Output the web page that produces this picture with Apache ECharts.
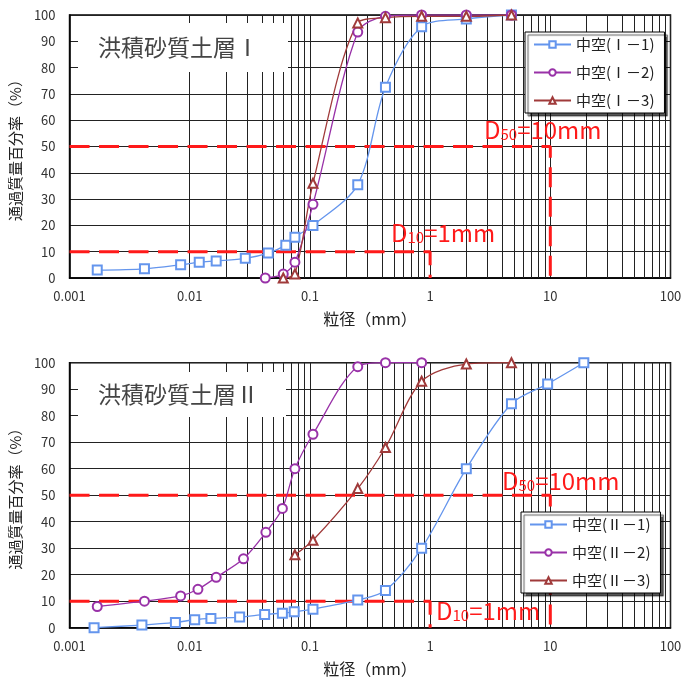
<!DOCTYPE html>
<html><head><meta charset="utf-8">
<script src="https://cdn.jsdelivr.net/npm/echarts@6/dist/echarts.min.js"></script>
<style>html,body{margin:0;padding:0;background:#fff}#c{width:685px;height:681px}</style>
</head><body><div id="c"></div>
<script>
// ---- data ----
const xMin = 0.001, xMax = 100;
const yMin = 0, yMax = 100, yStep = 10;
const names1 = ['中空(Ⅰ－1)', '中空(Ⅰ－2)', '中空(Ⅰ－3)'];
const names2 = ['中空(Ⅱ－1)', '中空(Ⅱ－2)', '中空(Ⅱ－3)'];
const titles = ['洪積砂質土層Ⅰ', '洪積砂質土層Ⅱ'];
// upper chart
const s1a = [[0.0017,3],[0.0042,3.5],[0.0084,5],[0.012,6],[0.0166,6.5],[0.029,7.5],[0.045,9.5],[0.063,12.5],[0.075,15.5],[0.106,20],[0.25,35.5],[0.425,72.5],[0.85,95.5],[2,98.5],[4.75,100]];
const s1b = [[0.0425,0],[0.06,1.5],[0.075,6],[0.106,28],[0.25,93.5],[0.425,99.5],[0.85,100],[2,100],[4.75,100]];
const s1c = [[0.06,0],[0.075,1.5],[0.106,36],[0.25,97],[0.425,99],[0.85,99.5],[2,99.5],[4.75,100]];
// lower chart
const s2a = [[0.0016,0],[0.004,1],[0.0076,2],[0.011,3],[0.015,3.5],[0.026,4],[0.042,5],[0.059,5.5],[0.074,6],[0.106,7],[0.25,10.5],[0.425,14],[0.85,30],[2,60],[4.75,84.5],[9.5,92],[19,100]];
const s2b = [[0.0017,8],[0.0042,10],[0.0084,12],[0.0117,14.5],[0.0166,19],[0.028,26],[0.043,36],[0.059,45],[0.075,60],[0.106,73],[0.25,98.5],[0.425,100],[0.85,100]];
const s2c = [[0.075,27.5],[0.106,33],[0.25,52.5],[0.425,68],[0.85,93],[2,99.5],[4.75,100]];
// reference lines
const d50 = [[0.001,50],[10,50],[10,0]];
const d10 = [[0.001,10],[1,10],[1,0]];

// ---- styling / build ----
const FONT = '"Noto Sans CJK JP", "Noto Sans", sans-serif';
const colors = ['#6495ED', '#9932A8', '#A03A3A'];
const symbols = ['emptyRect', 'emptyCircle', 'emptyTriangle'];
const minorVals = [];
for (let k = -3; k <= 1; k++) for (let d = 2; d <= 9; d++) minorVals.push(+(d * Math.pow(10, k)).toPrecision(3));

const grids = [
  {left: 68, right: 14.5, top: 15, height: 263},
  {left: 68, right: 14.5, top: 362.7, height: 265}
];
function xAx(i) {
  return {
    type: 'log', logBase: 10, min: xMin, max: xMax, gridIndex: i,
    name: '粒径（mm）', nameLocation: 'middle', nameGap: 33,
    nameTextStyle: {fontFamily: FONT, fontSize: 16, color: '#222'},
    axisLine: {lineStyle: {color: '#000', width: 1.5}},
    axisTick: {show: false},
    axisLabel: {fontFamily: FONT, fontSize: 13, color: '#333', margin: 12,
      formatter: v => String(+v.toPrecision(3))},
    splitLine: {show: true, lineStyle: {color: '#222', width: 1}}
  };
}
function yAx(i) {
  return {
    type: 'value', min: yMin, max: yMax, interval: yStep, gridIndex: i,
    name: '通過質量百分率（%）', nameLocation: 'middle', nameGap: 46, nameRotate: 90,
    nameTextStyle: {fontFamily: FONT, fontSize: 15, color: '#222'},
    axisLine: {show: true, lineStyle: {color: '#000', width: 1.5}},
    axisTick: {show: false},
    axisLabel: {fontFamily: FONT, fontSize: 13, color: '#333', margin: 14},
    splitLine: {show: true, lineStyle: {color: '#222', width: 1}}
  };
}
function dataSeries(name, data, idx, gi) {
  return {
    type: 'line', name: name, data: data, xAxisIndex: gi, yAxisIndex: gi,
    smooth: 0.3, symbol: symbols[idx], symbolSize: 9, z: 3,
    lineStyle: {color: colors[idx], width: 1.3},
    itemStyle: {color: colors[idx], borderColor: colors[idx], borderWidth: 1.3},
    emphasis: {disabled: true}
  };
}
function refSeries(data, gi) {
  return {
    type: 'line', data: data, xAxisIndex: gi, yAxisIndex: gi, symbol: 'none', z: 2, silent: true,
    lineStyle: {color: '#FF1A1A', width: 3, type: [20, 9.5]}
  };
}
function gridSeries(gi) {
  return {
    type: 'line', data: [], xAxisIndex: gi, yAxisIndex: gi, silent: true, z: 1,
    markLine: {silent: true, z: 1, symbol: 'none', animation: false, label: {show: false},
      lineStyle: {color: '#222', width: 1, type: 'solid'},
      data: minorVals.map(v => ({xAxis: v}))}
  };
}
function legend(names, left, top) {
  return {
    data: names, orient: 'vertical', left: left, top: top, z: 20,
    padding: [5, 10, 5, 8], itemGap: 13, itemWidth: 37, itemHeight: 8,
    textStyle: {fontFamily: FONT, fontSize: 15, color: '#222', lineHeight: 14},
    backgroundColor: '#fff', borderColor: '#000', borderWidth: 1,
    shadowColor: 'rgba(0,0,0,0.65)', shadowOffsetX: 3, shadowOffsetY: 3, shadowBlur: 1,
    selectedMode: false
  };
}
function titleBox(text, x, y, w, h) {
  return {
    type: 'group', z: 50,
    children: [
      {type: 'rect', shape: {x: x, y: y, width: w, height: h}, style: {fill: '#fff'}, z: 50},
      {type: 'text', x: x + 20, y: y + h / 2, z: 51,
        style: {text: text, font: '23px ' + FONT, fill: '#444', verticalAlign: 'middle'}}
    ]
  };
}
function dLabel(sub, rest, x, y) {
  return {
    type: 'text', x: x, y: y, z: 52,
    style: {
      text: '{a|D}{b|' + sub + '}{a|' + rest + '}',
      rich: {
        a: {fontFamily: FONT, fontSize: 24, lineHeight: 24, fill: '#FF1A1A', color: '#FF1A1A'},
        b: {fontFamily: FONT, fontSize: 15, lineHeight: 12, verticalAlign: 'bottom', fill: '#FF1A1A', color: '#FF1A1A'}
      }
    }
  };
}

const option = {
  animation: false,
  backgroundColor: '#fff',
  grid: grids.map(g => Object.assign({show: true, borderColor: '#000', borderWidth: 1.5, backgroundColor: 'transparent'}, g)),
  xAxis: [xAx(0), xAx(1)],
  yAxis: [yAx(0), yAx(1)],
  legend: [legend(names1, 525, 32), legend(names2, 521, 512)],
  series: [
    gridSeries(0), gridSeries(1),
    refSeries(d50, 0), refSeries(d10, 0), refSeries(d50, 1), refSeries(d10, 1),
    dataSeries(names1[0], s1a, 0, 0), dataSeries(names1[1], s1b, 1, 0), dataSeries(names1[2], s1c, 2, 0),
    dataSeries(names2[0], s2a, 0, 1), dataSeries(names2[1], s2b, 1, 1), dataSeries(names2[2], s2c, 2, 1)
  ],
  graphic: [
    titleBox(titles[0], 78, 23, 210, 49),
    titleBox(titles[1], 78, 372, 208, 45),
    dLabel('50', '=10mm', 484, 118),
    dLabel('10', '=1mm', 391, 221),
    dLabel('50', '=10mm', 502, 469),
    dLabel('10', '=1mm', 436, 599)
  ]
};
const chart = echarts.init(document.getElementById('c'), null, {renderer: 'canvas'});
chart.setOption(option);
</script></body></html>
